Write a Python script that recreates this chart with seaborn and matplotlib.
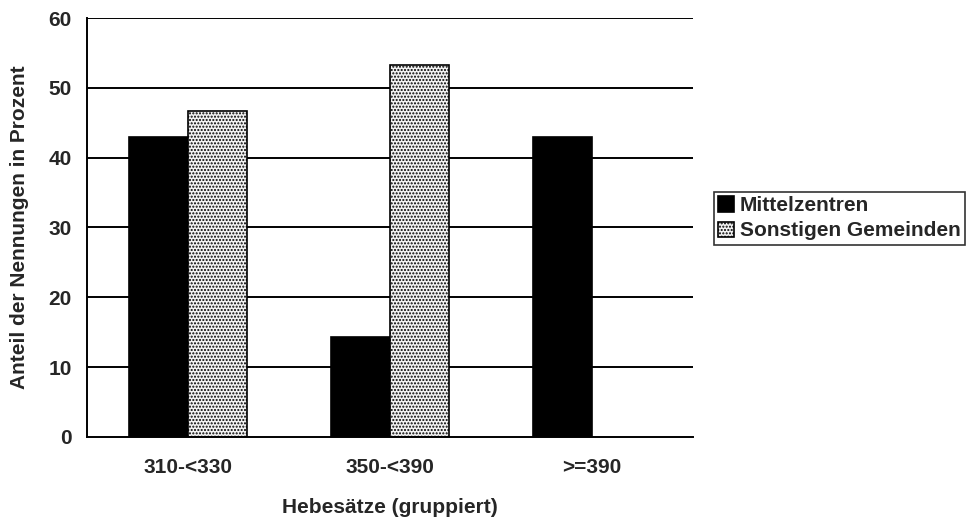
import pandas as pd
import matplotlib.pyplot as plt
import seaborn as sns

# ================================================
# Data
# ================================================
categories = ['310-<330', '350-<390', '>=390']
series_names = ['Mittelzentren', 'Sonstigen Gemeinden']
mittelzentren = [42.9, 14.3, 42.9]
sonstige = [46.7, 53.3, None]

df = pd.DataFrame({
    'gruppe': categories * 2,
    'typ': [series_names[0]] * 3 + [series_names[1]] * 3,
    'wert': mittelzentren + sonstige,
})

# ================================================
# Style
# ================================================
sns.set_theme(style='white')
plt.rcParams['font.family'] = ['Liberation Sans', 'DejaVu Sans']
plt.rcParams['font.weight'] = 'bold'
plt.rcParams['hatch.linewidth'] = 1.0

FS = 15

fig = plt.figure(figsize=(9.76, 5.22), dpi=100)
ax = fig.add_axes([0.0891, 0.163, 0.621, 0.8025])

sns.barplot(
    data=df,
    x='gruppe',
    y='wert',
    hue='typ',
    palette=['black', '#f2f2f2'],
    width=0.58,
    edgecolor='black',
    linewidth=1.2,
    legend=False,
    ax=ax,
)

# dotted fill for the second series
for bar in ax.containers[1]:
    bar.set_hatch('.....')

ax.set_ylim(0, 60)
ax.set_xlim(-0.5, 2.5)
ax.set_yticks(range(0, 61, 10))

# horizontal lines
for y in range(10, 61, 10):
    ax.axhline(y, color='black', linewidth=1.4, zorder=0)

for side in ['top', 'right']:
    ax.spines[side].set_visible(False)
for side in ['left', 'bottom']:
    ax.spines[side].set_color('black')
    ax.spines[side].set_linewidth(1.4)

ax.tick_params(axis='y', which='major', direction='out', length=7,
               width=1.4, color='black', labelsize=FS, pad=4)
ax.tick_params(axis='x', which='major', length=0, labelsize=FS, pad=15)
ax.set_xticks([-0.5, 0.5, 1.5, 2.5], minor=True)
ax.tick_params(axis='x', which='minor', direction='inout', length=12,
               width=1.4, color='black')

for lbl in ax.get_xticklabels() + ax.get_yticklabels():
    lbl.set_fontweight('bold')

ax.set_xlabel('Hebesätze (gruppiert)', fontsize=FS, fontweight='bold', labelpad=15)
ax.set_ylabel('Anteil der Nennungen in Prozent', fontsize=FS, fontweight='bold', labelpad=14)

leg = ax.legend(
    ax.containers,
    series_names,
    loc='upper left',
    bbox_to_anchor=(714 / 976, 1 - 192 / 522),
    bbox_transform=fig.transFigure,
    frameon=True,
    fancybox=False,
    edgecolor='black',
    fontsize=FS,
    handlelength=0.75,
    handleheight=0.75,
    handletextpad=0.3,
    borderpad=0.2,
    labelspacing=0.3,
    borderaxespad=0,
)
leg.get_frame().set_linewidth(1.2)
for t in leg.get_texts():
    t.set_fontweight('bold')

plt.savefig('out.png', dpi=100)
